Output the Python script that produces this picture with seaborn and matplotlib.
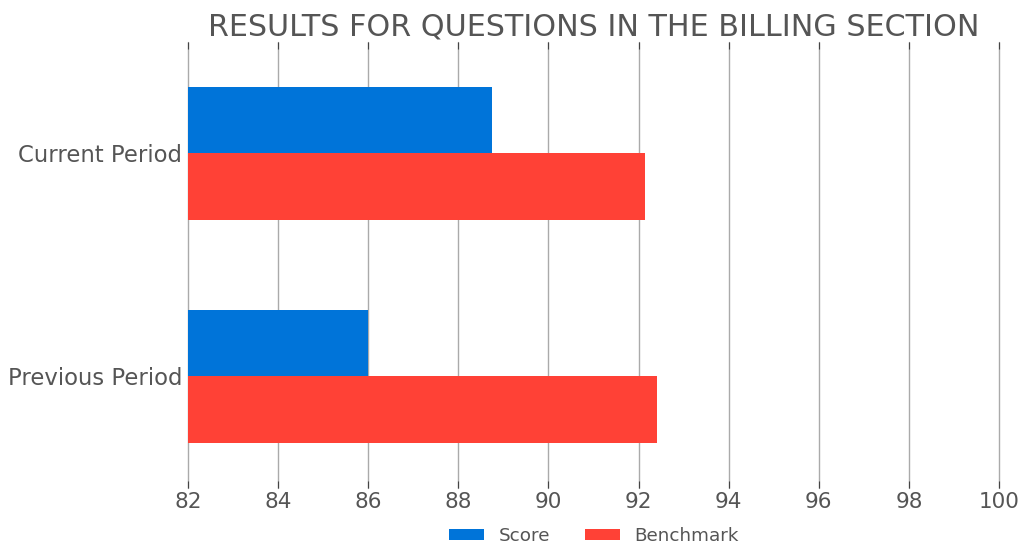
import matplotlib
matplotlib.use("Agg")
import matplotlib.pyplot as plt
import seaborn as sns
import pandas as pd

categories = ["Current Period", "Previous Period"]
score = [88.74, 86.0]
benchmark = [92.14, 92.41]
series_names = ["Score", "Benchmark"]
xticks = [82, 84, 86, 88, 90, 92, 94, 96, 98, 100]

df = pd.DataFrame({
    "period": categories * 2,
    "value": score + benchmark,
    "series": [series_names[0]] * len(categories) + [series_names[1]] * len(categories),
})

sns.set_style("white")
plt.rcParams["font.family"] = ["DejaVu Sans"]
text_color = "#555555"

fig = plt.figure(figsize=(10.22, 5.45), dpi=100)
ax = fig.add_axes([0.184, 0.1046, 0.7935, 0.8184])

sns.barplot(data=df, y="period", x="value", hue="series", orient="h",
            palette=["#0074D9", "#FF4136"], width=0.6, ax=ax,
            saturation=1, edgecolor="none", linewidth=0, zorder=3)

ax.set_xlim(82, 100)
ax.set_ylim(1.5, -0.5)
ax.set_xticks(xticks)
ax.set_xticklabels([str(t) for t in xticks])
ax.set_xlabel("")
ax.set_ylabel("")
for s in ax.spines.values():
    s.set_visible(False)
ax.grid(axis="x", color="#aaaaaa", linewidth=1, zorder=0)
ax.grid(axis="y", visible=False)
ax.set_axisbelow(True)
for gl in ax.get_xgridlines():
    gl.set_clip_on(False)
ax.tick_params(axis="x", which="both", top=True, bottom=True, direction="in",
               length=5, color="#444444", labelsize=15.5, labelcolor=text_color, pad=3)
ax.tick_params(axis="y", length=0, labelsize=16.4, labelcolor=text_color, pad=4)

ax.set_title("RESULTS FOR QUESTIONS IN THE BILLING SECTION", fontsize=21.7,
             color=text_color, pad=4)

handles, labels = ax.get_legend_handles_labels()
if ax.get_legend() is not None:
    ax.get_legend().remove()
fig.legend(handles, labels, loc="lower center", bbox_to_anchor=(0.581, -0.03),
           ncol=2, frameon=False, fontsize=13.2, labelcolor=text_color,
           handlelength=1.9, handleheight=0.5, handletextpad=0.8, columnspacing=1.9)

fig.savefig("out.png", dpi=100)
